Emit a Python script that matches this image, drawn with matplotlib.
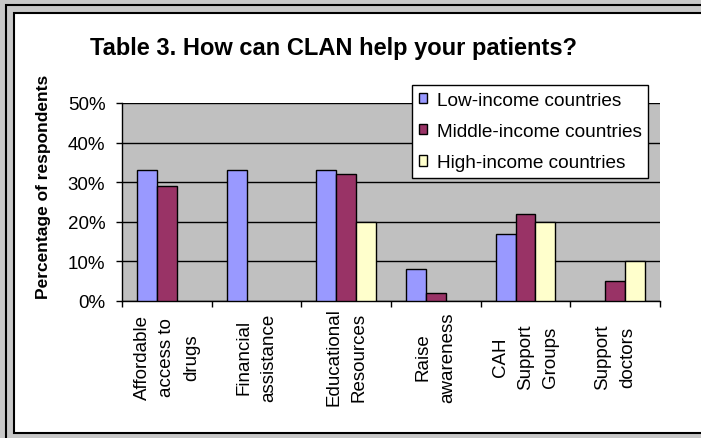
import matplotlib.pyplot as plt
import matplotlib.patches as mpatches
import numpy as np

plt.rcParams['font.family'] = ['Liberation Sans', 'DejaVu Sans']

# data (percent of respondents)
categories = ['Affordable\naccess to\ndrugs', 'Financial\nassistance',
              'Educational\nResources', 'Raise\nawareness',
              'CAH\nSupport\nGroups', 'Support\ndoctors']
low_income = [33, 33, 33, 8, 17, 0]
middle_income = [29, 0, 32, 2, 22, 5]
high_income = [0, 0, 20, 0, 20, 10]
series_names = ['Low-income countries', 'Middle-income countries', 'High-income countries']
colors = ['#9999FF', '#993366', '#FFFFCC']

W, H = 701, 439
fig = plt.figure(figsize=(W / 100, H / 100), dpi=100)
fig.patch.set_facecolor('#C8C8C8')

# frames around the chart (pixel coords, origin top-left)
def px_rect(x0, y0, x1, y1, **kw):
    return mpatches.Rectangle((x0 / W, 1 - y1 / H), (x1 - x0) / W, (y1 - y0) / H,
                              transform=fig.transFigure, zorder=-10, **kw)

fig.patches.append(px_rect(6, 6, 720, 460, facecolor='none', edgecolor='black', lw=1.5))
fig.patches.append(px_rect(14, 14, 720, 434, facecolor='white', edgecolor='black', lw=1.5))

ax = fig.add_axes([122 / W, 1 - 302 / H, (660 - 122) / W, (302 - 104) / H])
ax.set_facecolor('#C0C0C0')

x = np.arange(len(categories))
bw = 0.222
for i, (vals, name, c) in enumerate(zip([low_income, middle_income, high_income], series_names, colors)):
    v = np.array(vals, dtype=float)
    v[v == 0] = np.nan
    ax.bar(x + (i - 1) * bw, v, bw, color=c, edgecolor='black', linewidth=1, label=name, zorder=3)

ax.set_xlim(-0.5, len(categories) - 0.5)
ax.set_ylim(0, 50)
ax.set_yticks(range(0, 51, 10))
ax.set_yticklabels([f'{t}%' for t in range(0, 51, 10)], fontsize=13.5)
ax.yaxis.grid(True, color='black', linewidth=1, zorder=1)
ax.set_axisbelow(True)

ax.set_xticks(x)
ax.set_xticklabels(categories, rotation=90, va='center', ha='center',
                   multialignment='center', fontsize=13.5, linespacing=1.6)
ax.set_xticks(np.arange(-0.5, len(categories)), minor=True)
ax.tick_params(axis='x', which='major', length=0, pad=40)
ax.tick_params(axis='x', which='minor', length=4, width=1, direction='out')
ax.tick_params(axis='y', length=4, width=1, pad=8)

for s in ['top', 'right']:
    ax.spines[s].set_visible(False)
for s in ['left', 'bottom']:
    ax.spines[s].set_linewidth(1)

fig.text(334 / W, 1 - 48 / H, 'Table 3. How can CLAN help your patients?',
         fontsize=17, fontweight='bold', ha='center', va='center')
fig.text(44 / W, 1 - 187 / H, 'Percentage of respondents', fontsize=12.5,
         fontweight='bold', rotation=90, ha='center', va='center')

leg = ax.legend(loc='upper left', bbox_to_anchor=((412 - 122) / 538, (302 - 86) / 198),
                fontsize=13.7, frameon=True, fancybox=False, edgecolor='black',
                framealpha=1, borderpad=0.35, handlelength=0.45, handleheight=0.45,
                handletextpad=0.5, labelspacing=0.75, borderaxespad=0)
leg.get_frame().set_linewidth(1)
leg.set_zorder(5)

fig.savefig('out.png', dpi=100, facecolor=fig.get_facecolor())
